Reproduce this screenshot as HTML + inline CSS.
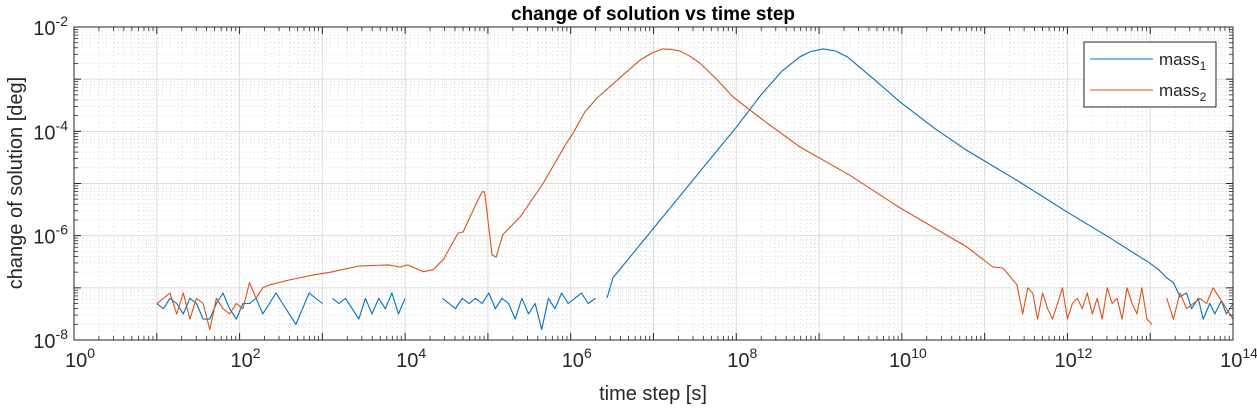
<!DOCTYPE html>
<html><head><meta charset="utf-8">
<style>
body{margin:0;background:#fff;font-family:"Liberation Sans",Arial,sans-serif;}
svg text{font-family:"Liberation Sans",Arial,sans-serif;}
</style></head>
<body>
<svg id="chart" width="1257" height="410" xmlns="http://www.w3.org/2000/svg">
<rect width="1257" height="410" fill="#fff"/>
<g id="grid"></g>
<g id="series"></g>
<g id="axes"></g>
<text x="653" y="20" font-size="19" font-weight="bold" text-anchor="middle">change of solution vs time step</text>
<text x="653" y="400" font-size="20" text-anchor="middle" fill="#262626">time step [s]</text>
<text transform="translate(22,183) rotate(-90)" font-size="20" text-anchor="middle" fill="#262626">change of solution [deg]</text>
<g>
<rect x="1084" y="42" width="132" height="65" fill="#fff" stroke="#262626" stroke-width="1"/>
<line x1="1090" y1="59" x2="1153" y2="59" stroke="#0072BD" stroke-width="1"/>
<text x="1159" y="65" font-size="17" fill="#262626">mass<tspan font-size="12" dy="5">1</tspan></text>
<line x1="1090" y1="90" x2="1153" y2="90" stroke="#D95319" stroke-width="1"/>
<text x="1159" y="96" font-size="17" fill="#262626">mass<tspan font-size="12" dy="5">2</tspan></text>
</g>
</svg>
<script>
// data: log10 of time step and log10 of change (null = gap)
const mass1LogX = [1.0,1.08,1.16,1.24,1.32,1.40,1.48,1.56,1.64,1.72,1.80,1.88,1.96,2.04,2.12,2.20,2.28,2.36,2.44,2.52,2.60,2.68,2.76,2.84,2.92,3.0,null,
 3.12,3.2,3.28,3.36,3.44,3.52,3.6,3.68,3.76,3.84,3.92,4.0,null,
 4.45,4.53,4.61,4.69,4.77,4.85,4.93,5.01,5.09,5.17,5.25,5.33,5.41,5.49,5.57,5.65,5.73,5.81,5.89,5.97,6.05,6.13,6.21,6.3,null,
 6.44,6.51,8.0,8.3,8.55,8.77,8.9,9.05,9.2,9.35,9.49,9.7,9.98,10.4,10.78,11.4,11.99,12.5,12.99,13.1,13.2,13.28,13.36,13.44,13.5,13.58,13.64,13.72,13.78,13.86,13.92,14.0];
const mass1LogY = [-7.3,-7.4,-7.2,-7.3,-7.5,-7.2,-7.3,-7.6,-7.6,-7.3,-7.1,-7.4,-7.6,-7.3,-7.3,-7.2,-7.5,-7.3,-7.1,-7.3,-7.5,-7.7,-7.4,-7.1,-7.2,-7.3,null,
 -7.2,-7.3,-7.2,-7.4,-7.6,-7.2,-7.5,-7.2,-7.4,-7.1,-7.5,-7.2,null,
 -7.2,-7.3,-7.4,-7.2,-7.3,-7.2,-7.3,-7.1,-7.4,-7.2,-7.3,-7.6,-7.2,-7.5,-7.3,-7.8,-7.2,-7.4,-7.1,-7.3,-7.2,-7.1,-7.3,-7.2,null,
 -7.19,-6.81,-3.92,-3.3,-2.85,-2.57,-2.47,-2.42,-2.46,-2.58,-2.77,-3.05,-3.44,-3.95,-4.36,-4.95,-5.54,-6.03,-6.52,-6.65,-6.81,-6.9,-7.17,-7.1,-7.4,-7.2,-7.6,-7.3,-7.5,-7.25,-7.5,-7.3];
const mass2LogX = [1.0,1.08,1.16,1.24,1.32,1.40,1.48,1.56,1.64,1.72,1.80,1.88,1.96,2.04,2.12,2.20,2.28,2.37,2.6,2.9,3.1,3.45,3.8,3.94,4.03,4.22,4.34,4.46,4.64,4.70,4.84,4.93,4.96,5.05,5.10,5.18,5.39,5.67,5.95,6.03,6.17,6.32,6.56,6.84,6.98,7.11,7.22,7.32,7.44,7.56,7.75,7.96,8.37,8.77,9.37,9.98,10.78,11.10,11.22,11.39,
 11.46,11.52,11.58,11.64,11.7,11.76,11.82,11.88,11.94,12.0,12.06,12.12,12.18,12.24,12.3,12.36,12.42,12.48,12.54,12.6,12.66,12.72,12.78,12.84,12.9,12.96,13.02,null,
 13.2,13.28,13.36,13.44,13.52,13.6,13.68,13.76,13.84,13.92,14.0];
const mass2LogY = [-7.3,-7.2,-7.1,-7.5,-7.1,-7.6,-7.2,-7.3,-7.8,-7.2,-7.4,-7.5,-7.3,-7.4,-6.9,-7.2,-7.0,-6.94,-6.85,-6.75,-6.7,-6.58,-6.56,-6.60,-6.56,-6.69,-6.65,-6.46,-5.95,-5.93,-5.45,-5.16,-5.16,-6.37,-6.41,-5.98,-5.64,-4.99,-4.22,-4.03,-3.63,-3.36,-3.02,-2.63,-2.5,-2.42,-2.43,-2.46,-2.56,-2.69,-2.98,-3.34,-3.84,-4.30,-4.84,-5.47,-6.21,-6.60,-6.62,-6.94,
 -7.5,-7.0,-7.1,-7.6,-7.1,-7.4,-7.6,-7.3,-7.0,-7.6,-7.3,-7.2,-7.4,-7.1,-7.5,-7.2,-7.6,-7.0,-7.3,-7.2,-7.6,-7.0,-7.3,-7.5,-7.0,-7.6,-7.7,null,
 -7.2,-7.6,-7.1,-7.4,-7.3,-7.2,-7.3,-7.0,-7.2,-7.4,-7.6];
const xTickExp = [0,2,4,6,8,10,12,14];
const yTickExp = [-8,-6,-4,-2];

const X0=74,X1=1233,Y0=340,Y1=27;
const xs = e => X0+(e-0)/(14-0)*(X1-X0);
const ys = e => Y0-(e-(-8))/6*(Y0-Y1);
const NS="http://www.w3.org/2000/svg";
function mk(tag,attrs,parent){const el=document.createElementNS(NS,tag);for(const k in attrs)el.setAttribute(k,attrs[k]);parent.appendChild(el);return el;}
const grid=document.getElementById('grid'), axes=document.getElementById('axes'), series=document.getElementById('series');
mk('rect',{x:X0,y:Y1,width:X1-X0,height:Y0-Y1,fill:'#fff'},grid);
for(let d=0;d<14;d++)for(let m=2;m<=9;m++){const x=xs(d+Math.log10(m));
 const l=mk('line',{x1:x,x2:x,y1:Y1,y2:Y0,stroke:'#d0d0d0','stroke-width':0.8,'stroke-dasharray':'1 3'},grid);
 
 mk('line',{x1:x,x2:x,y1:Y0,y2:Y0-4,stroke:'#262626','stroke-width':0.8},axes);
 mk('line',{x1:x,x2:x,y1:Y1,y2:Y1+4,stroke:'#262626','stroke-width':0.8},axes);}
for(let d=-8;d<-2;d++)for(let m=2;m<=9;m++){const y=ys(d+Math.log10(m));
 const l=mk('line',{x1:X0,x2:X1,y1:y,y2:y,stroke:'#d0d0d0','stroke-width':0.8,'stroke-dasharray':'1 3'},grid);
 
 mk('line',{x1:X0,x2:X0+4,y1:y,y2:y,stroke:'#262626','stroke-width':0.8},axes);
 mk('line',{x1:X1,x2:X1-4,y1:y,y2:y,stroke:'#262626','stroke-width':0.8},axes);}
for(let d=0;d<=14;d++){const x=xs(d);
 const l=mk('line',{x1:x,x2:x,y1:Y1,y2:Y0,stroke:'#dcdcdc','stroke-width':1},grid);
 
 mk('line',{x1:x,x2:x,y1:Y0,y2:Y0-7,stroke:'#262626'},axes);mk('line',{x1:x,x2:x,y1:Y1,y2:Y1+7,stroke:'#262626'},axes);}
for(let d=-8;d<=-2;d++){const y=ys(d);
 const l=mk('line',{x1:X0,x2:X1,y1:y,y2:y,stroke:'#dcdcdc','stroke-width':1},grid);
 
 mk('line',{x1:X0,x2:X0+7,y1:y,y2:y,stroke:'#262626'},axes);mk('line',{x1:X1,x2:X1-7,y1:y,y2:y,stroke:'#262626'},axes);}
const box=mk('rect',{x:X0,y:Y1,width:X1-X0,height:Y0-Y1,fill:'none',stroke:'#262626','stroke-width':1},axes);

xTickExp.forEach(e=>{const t=mk('text',{x:xs(e)+6,y:Y0+27,'font-size':20,'text-anchor':'middle',fill:'#262626'},axes);
 
 t.innerHTML='10<tspan font-size="14" dy="-9">'+e+'</tspan>';});
yTickExp.forEach(e=>{const t=mk('text',{x:X0-6,y:ys(e)+8,'font-size':20,'text-anchor':'end',fill:'#262626'},axes);
 
 t.innerHTML='10<tspan font-size="14" dy="-9">'+e+'</tspan>';});
function draw(lx,ly,color,name){let d='',pen=false;
 for(let i=0;i<lx.length;i++){if(lx[i]===null){pen=false;continue;}
  d+=(pen?'L':'M')+xs(lx[i]).toFixed(1)+','+ys(ly[i]).toFixed(1);pen=true;}
 const p=mk('path',{d:d,fill:'none',stroke:color,'stroke-width':1.1,'stroke-linejoin':'round'},series);
 }
draw(mass1LogX,mass1LogY,'#0072BD','line-mass1');
draw(mass2LogX,mass2LogY,'#D95319','line-mass2');
</script>
</body></html>
